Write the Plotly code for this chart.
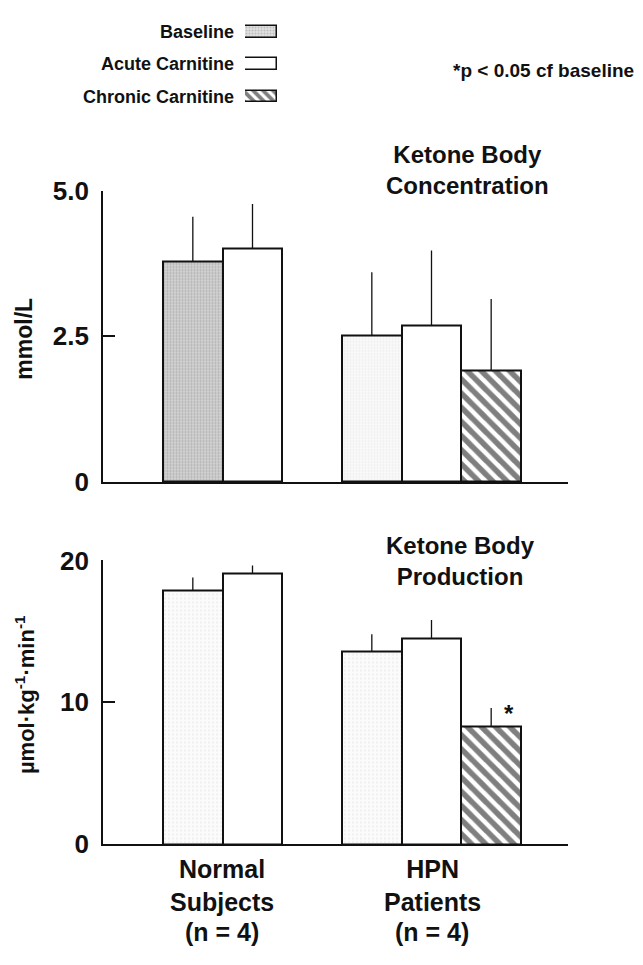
import plotly.graph_objects as go

# ---------------- data ----------------
groups = ["Normal Subjects", "HPN Patients"]
group_labels = ["Normal<br>Subjects", "HPN<br>Patients"]
n_labels = ["(n = 4)", "(n = 4)"]
series_names = ["Baseline", "Acute Carnitine", "Chronic Carnitine"]

conc_baseline = [3.79, 2.51]
conc_baseline_err = [0.76, 1.09]
conc_acute = [4.00, 2.69]
conc_acute_err = [0.77, 1.28]
conc_chronic = [1.91]
conc_chronic_err = [1.23]

prod_baseline = [17.9, 13.6]
prod_baseline_err = [0.9, 1.2]
prod_acute = [19.1, 14.5]
prod_acute_err = [0.55, 1.3]
prod_chronic = [8.3]
prod_chronic_err = [1.3]

conc_ticks = [0, 2.5, 5]
conc_ticktext = ["0", "2.5", "5.0"]
prod_ticks = [0, 10, 20]
prod_ticktext = ["0", "10", "20"]

# ---------------- style ----------------
PAGE_OFF = 8              # default body margin of the html page
W, H = 643 - PAGE_OFF, 965 - 2 * PAGE_OFF
FONT = "Liberation Sans"
BLACK = "#111111"


def px_x(p):
    return (p - PAGE_OFF) / W


def px_y(p):
    return 1 - (p - PAGE_OFF) / H


slot = 1 / 3
offsets = [-0.5, -0.5 + slot, -0.5 + 2 * slot]
HATCH = dict(shape="\\", fgcolor="#000000", bgcolor="white", size=10, solidity=0.55)

fig = go.Figure()


def add_bar(xs, ys, errs, name, xa, ya, idx, pattern=None):
    marker = dict(color="white", line=dict(color=BLACK, width=2))
    if pattern is not None:
        marker["pattern"] = pattern
    fig.add_trace(go.Bar(
        x=xs, y=ys, name=name, xaxis=xa, yaxis=ya,
        width=slot, offset=offsets[idx], marker=marker, showlegend=False,
        error_y=dict(type="data", symmetric=False, array=errs, arrayminus=[0] * len(errs),
                     width=0, thickness=1.3, color=BLACK),
    ))


# top panel
add_bar(groups, conc_baseline, conc_baseline_err, "Baseline", "x", "y", 0,
        pattern=dict(shape=".", fgcolor=["#8a8a8a", "#dedede"], bgcolor=["#d4d4d4", "#fbfbfb"],
                     size=3, solidity=0.4))
add_bar(groups, conc_acute, conc_acute_err, "Acute Carnitine", "x", "y", 1)
add_bar(groups[1:], conc_chronic, conc_chronic_err, "Chronic Carnitine", "x", "y", 2, pattern=HATCH)
# bottom panel
add_bar(groups, prod_baseline, prod_baseline_err, "Baseline", "x2", "y2", 0,
        pattern=dict(shape=".", fgcolor="#dcdcdc", bgcolor="#fbfbfb", size=4, solidity=0.2))
add_bar(groups, prod_acute, prod_acute_err, "Acute Carnitine", "x2", "y2", 1)
add_bar(groups[1:], prod_chronic, prod_chronic_err, "Chronic Carnitine", "x2", "y2", 2, pattern=HATCH)

# legend swatches (tiny horizontal bars)
legend_patterns = [dict(shape=".", fgcolor="#999999", bgcolor="#e2e2e2", size=3, solidity=0.4),
                   None,
                   dict(shape="\\", fgcolor="#000000", bgcolor="white", size=7, solidity=0.55)]
for name, pat in zip(series_names, legend_patterns):
    marker = dict(color="white", line=dict(color=BLACK, width=1.5))
    if pat is not None:
        marker["pattern"] = pat
    fig.add_trace(go.Bar(x=[1], y=[name], orientation="h", xaxis="x3", yaxis="y3",
                         width=0.36, marker=marker, showlegend=False))

ROW0, ROW_STEP = 17, 33.5   # legend row centres (px)
LEG_TOP, LEG_BOT = 8, 100
xdom = [px_x(103), px_x(568)]
xrange = [-0.5 - (163 - 103) / 179.0, 1.5 + (568 - 521) / 179.0]
axis_x = dict(domain=xdom, range=xrange, showline=True, linecolor=BLACK, linewidth=1.8,
              showticklabels=False, ticks="", showgrid=False, zeroline=False,
              categoryorder="array", categoryarray=groups, fixedrange=True)
axis_y_common = dict(showline=True, linecolor=BLACK, linewidth=1.6, ticks="inside", ticklen=12,
                     tickwidth=1.6, tickcolor=BLACK, showgrid=False, zeroline=False,
                     tickfont=dict(family=FONT, size=26, color=BLACK, weight="bold"),
                     ticklabelstandoff=7)

fig.update_layout(
    width=W, height=H, margin=dict(l=0, r=0, t=0, b=0),
    paper_bgcolor="white", plot_bgcolor="white",
    barmode="overlay", bargap=0,
    xaxis=dict(axis_x, anchor="y"),
    yaxis=dict(axis_y_common, domain=[px_y(482), px_y(181)], range=[0, 5],
               tickvals=conc_ticks, ticktext=conc_ticktext, anchor="x"),
    xaxis2=dict(axis_x, anchor="y2"),
    yaxis2=dict(axis_y_common, domain=[px_y(856), px_y(563)], range=[0, 20],
                tickvals=prod_ticks, ticktext=prod_ticktext, anchor="x2"),
    xaxis3=dict(domain=[px_x(245), px_x(277)], range=[0, 1], visible=False, fixedrange=True, anchor="y3"),
    yaxis3=dict(domain=[px_y(LEG_BOT), px_y(LEG_TOP)],
                range=[(LEG_BOT - ROW0) / ROW_STEP, (LEG_TOP - ROW0) / ROW_STEP], visible=False,
                categoryorder="array", categoryarray=series_names, anchor="x3"),
    font=dict(family=FONT, color=BLACK),
)


def BOLD(s):
    return dict(family=FONT, size=s, color=BLACK, weight="bold")


def text_at(x, y, t, size, xanchor="center", **kw):
    return dict(xref="paper", yref="paper", x=px_x(x), y=px_y(y), text=t, showarrow=False,
                xanchor=xanchor, yanchor="middle", font=BOLD(size), **kw)


ann = []
# legend labels
for name in series_names:
    ann.append(dict(xref="paper", yref="y3", x=px_x(236), y=name, text=name, showarrow=False,
                    xanchor="right", yanchor="middle", font=BOLD(18)))
ann.append(text_at(451, 57, "*p &lt; 0.05 cf baseline", 19, xanchor="left"))
# panel titles
ann.append(text_at(467, 160, "Ketone Body<br>Concentration", 24))
ann.append(text_at(460, 564, "Ketone Body<br>Production", 24))
# y axis titles
ann.append(text_at(24, 334, "mmol/L", 23, textangle=-90))
ann.append(text_at(25, 702, "µmol·kg<sup>-1</sup>·min<sup>-1</sup>", 22, textangle=-90))
# significance star
ann.append(dict(xref="x2", yref="y2", x=groups[1], y=prod_chronic[0] + prod_chronic_err[0],
                text="*", showarrow=False, xshift=77, yshift=-6, xanchor="center", yanchor="middle",
                font=BOLD(24)))
# group labels
label_x = [222, 432]
for gl, nl, lx in zip(group_labels, n_labels, label_x):
    ann.append(text_at(lx, 899, gl, 25))
    ann.append(text_at(lx, 947, nl, 25))
fig.update_layout(annotations=ann)

fig.write_html("out.html")
